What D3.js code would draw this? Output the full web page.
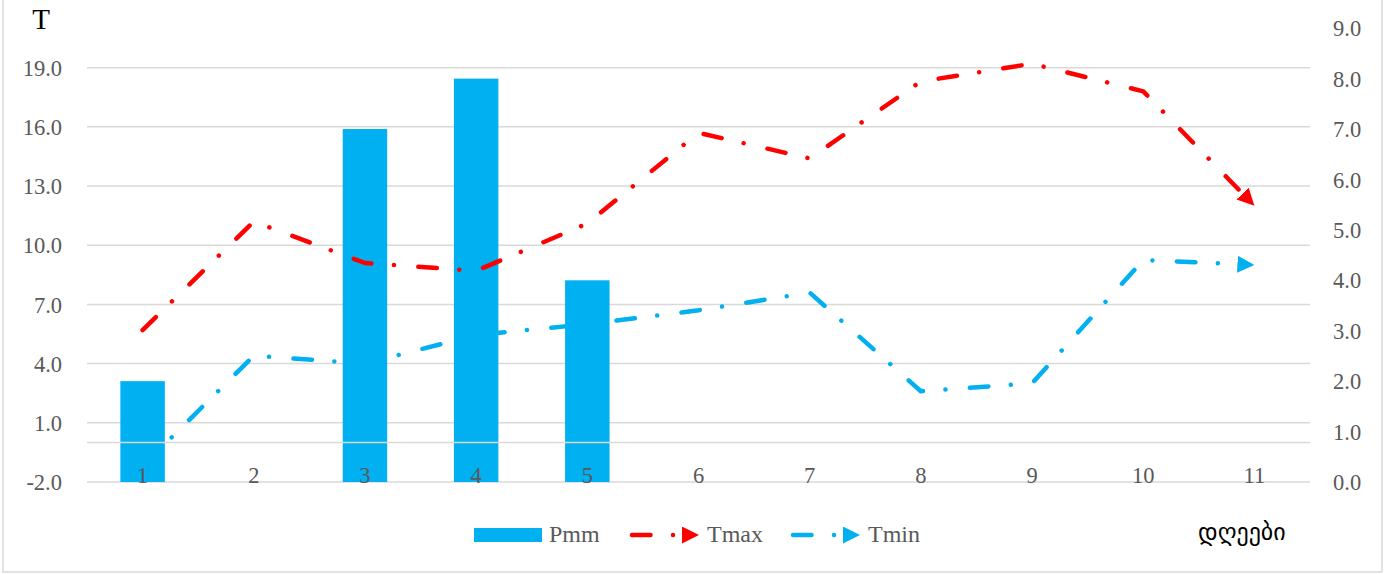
<!DOCTYPE html>
<html>
<head>
<meta charset="utf-8">
<script src="https://cdn.jsdelivr.net/npm/d3@7"></script>
<style>
  html, body { margin: 0; padding: 0; background: #ffffff; }
  svg { display: block; }
</style>
</head>
<body>
<svg id="chart" width="1397" height="574"></svg>
<script>
const categories = ["1","2","3","4","5","6","7","8","9","10","11"];
const pmm  = [2, 0, 7, 8, 4, 0, 0, 0, 0, 0, 0];
const tmax = [5.7, 11.2, 9.1, 8.7, 11.1, 15.7, 14.4, 18.3, 19.2, 17.8, 12.0];
const tmin = [-1.2, 4.4, 4.0, 5.45, 6.0, 6.7, 7.6, 2.6, 3.0, 9.25, 9.0];
const leftTicks  = [-2, 1, 4, 7, 10, 13, 16, 19];
const rightTicks = [0, 1, 2, 3, 4, 5, 6, 7, 8, 9];
const seriesNames = ["Pmm", "Tmax", "Tmin"];
const yTitle = "T";
const xTitle = "დღეები";

const blue = "#00B0F0", red = "#FF0000", grid = "#D9D9D9", txt = "#595959";
const serif = "'Liberation Serif', 'DejaVu Serif', serif";
const fmt = d3.formatLocale({ decimal: ".", thousands: ",", grouping: [3], currency: ["", ""], minus: "-" }).format(".1f");

const svg = d3.select("#chart");
const plot = { left: 87, right: 1310, top: 28.2, bottom: 482 };

// chart border
svg.append("rect").attr("x", 3).attr("y", -2).attr("width", 1379).attr("height", 574)
  .attr("fill", "#fff").attr("stroke", grid).attr("stroke-width", 1.5);

const x = d3.scaleBand().domain(categories).range([plot.left, plot.right]).padding(0);
const yL = d3.scaleLinear().domain([-2, 21]).range([plot.bottom, plot.top]);
const yR = d3.scaleLinear().domain([0, 9]).range([plot.bottom, plot.top]);

// gridlines (left axis)
svg.append("g").selectAll("line").data(leftTicks).join("line")
  .attr("x1", plot.left).attr("x2", plot.right)
  .attr("y1", d => yL(d)).attr("y2", d => yL(d))
  .attr("stroke", grid).attr("stroke-width", 1.5);

// left axis
const axL = svg.append("g").attr("transform", `translate(${plot.left - 25},0)`)
  .call(d3.axisLeft(yL).tickValues(leftTicks).tickFormat(fmt).tickSize(0).tickPadding(0));
axL.select(".domain").remove();
axL.selectAll("text").attr("font-family", serif).attr("font-size", 22.5).attr("fill", txt).attr("dy", "0.34em");

// right axis
const axR = svg.append("g").attr("transform", `translate(${plot.right + 23},0)`)
  .call(d3.axisRight(yR).tickValues(rightTicks).tickFormat(fmt).tickSize(0).tickPadding(0));
axR.select(".domain").remove();
axR.selectAll("text").attr("font-family", serif).attr("font-size", 22.5).attr("fill", txt).attr("dy", "0.34em");

// bars (secondary axis)
const bw = x.bandwidth() * 0.4;
svg.append("g").selectAll("rect").data(categories.map((c, i) => ({ c, v: pmm[i] })).filter(d => d.v > 0)).join("rect")
  .attr("x", d => x(d.c) + x.bandwidth() / 2 - bw / 2)
  .attr("width", bw)
  .attr("y", d => yR(d.v))
  .attr("height", d => yR(0) - yR(d.v))
  .attr("fill", blue);

// horizontal category axis line at 0 (left axis)
svg.append("line").attr("x1", plot.left).attr("x2", plot.right)
  .attr("y1", yL(0)).attr("y2", yL(0)).attr("stroke", grid).attr("stroke-width", 1.5);

// category labels
const axX = svg.append("g").attr("transform", `translate(0,${plot.bottom})`)
  .call(d3.axisBottom(x).tickSize(0).tickPadding(0));
axX.select(".domain").remove();
axX.selectAll("text").attr("font-family", serif).attr("font-size", 22.5).attr("fill", txt)
  .attr("dy", "0").attr("y", 1);

// markers
const defs = svg.append("defs");
function arrow(id, color) {
  defs.append("marker").attr("id", id)
    .attr("markerUnits", "userSpaceOnUse")
    .attr("viewBox", "0 0 17 17")
    .attr("markerWidth", 17).attr("markerHeight", 17)
    .attr("refX", 17).attr("refY", 8.5).attr("orient", "auto")
    .append("path").attr("d", "M0,0 L17,8.5 L0,17 Z").attr("fill", color);
}
arrow("arR", red);
arrow("arB", blue);

const dash = "18.5,22.5,0.01,24.5";
const lineGen = d3.line().curve(d3.curveLinear);

// draw a dashed polyline (screen points) ending in an arrowhead at the last point
function dashedArrow(parent, pts, color, mk) {
  const n = pts.length;
  const [xa, ya] = pts[n - 2], [xb, yb] = pts[n - 1];
  const len = Math.hypot(xb - xa, yb - ya);
  const pull = Math.min(9, len);
  const short = pts.slice(0, n - 1).concat([[xb - (xb - xa) / len * pull, yb - (yb - ya) / len * pull]]);
  parent.append("path").attr("d", lineGen(short))
    .attr("fill", "none").attr("stroke", color).attr("stroke-width", 4.5)
    .attr("stroke-linecap", "round").attr("stroke-linejoin", "round")
    .attr("stroke-dasharray", dash);
  parent.append("path").attr("d", lineGen([pts[n - 2], pts[n - 1]]))
    .attr("fill", "none").attr("stroke", "none")
    .attr("marker-end", `url(#${mk})`);
}
const cx = (i) => x(categories[i]) + x.bandwidth() / 2;
const series = svg.append("g");
dashedArrow(series, tmax.map((v, i) => [cx(i), yL(v)]), red, "arR");
dashedArrow(series, tmin.map((v, i) => [cx(i), yL(v)]), blue, "arB");

// titles
svg.append("text").attr("x", 41).attr("y", 29).attr("text-anchor", "middle")
  .attr("font-family", serif).attr("font-size", 29).attr("fill", "#000").text(yTitle);
svg.append("text").attr("x", 1198).attr("y", 540)
  .attr("font-family", "'DejaVu Sans', sans-serif").attr("font-size", 24).attr("fill", "#000").text(xTitle);

// legend
const lg = svg.append("g");
lg.append("rect").attr("x", 474).attr("y", 528).attr("width", 68).attr("height", 14).attr("fill", blue);
lg.append("text").attr("x", 549).attr("y", 542).attr("font-family", serif).attr("font-size", 24).attr("fill", txt).text(seriesNames[0]);
function legLine(x0, color, mk, label) {
  dashedArrow(lg, [[x0, 535], [x0 + 67, 535]], color, mk);
  lg.append("text").attr("x", x0 + 75).attr("y", 542).attr("font-family", serif).attr("font-size", 24).attr("fill", txt).text(label);
}
legLine(632, red, "arR", seriesNames[1]);
legLine(793, blue, "arB", seriesNames[2]);
</script>
</body>
</html>
